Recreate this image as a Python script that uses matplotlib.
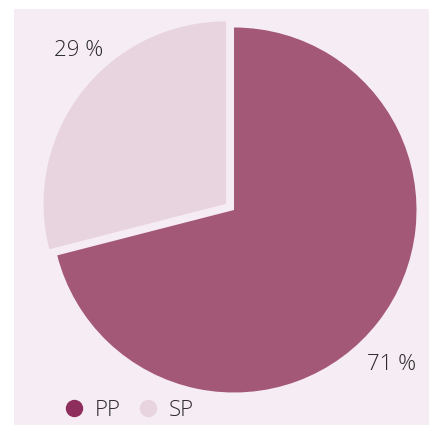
import matplotlib.pyplot as plt
from matplotlib.lines import Line2D

# chart data
labels = ["PP", "SP"]
shares = [71, 29]
wedge_colors = ["#A45878", "#E8D4DF"]
legend_colors = ["#8E2E5C", "#E8D4DF"]
pct_labels = ["71 %", "29 %"]

BG = "#F6ECF3"
TEXT = "#2A2A2A"

plt.rcParams["font.family"] = ["Open Sans", "DejaVu Sans"]
plt.rcParams["font.weight"] = "light"

fig = plt.figure(figsize=(4.29, 4.27), dpi=100)
fig.patch.set_facecolor("white")

# pink panel, pie centre at (234, 211) px, radius ~182.5 px
W, H = 429, 427
ax = fig.add_axes([14 / W, 1 / H, 415 / W, 416 / H])
ax.set_facecolor(BG)
r_px = 182.5
cx, cy = 234, 211

ax.pie(shares, colors=wedge_colors, startangle=90, counterclock=False,
       explode=[0, 0.055], radius=1, frame=True,
       wedgeprops=dict(linewidth=0))
ax.set_xlim((14 - cx) / r_px, (429 - cx) / r_px)
ax.set_ylim(-(426 - cy) / r_px, (cy - 10) / r_px)
ax.set_aspect("auto")
for s in ax.spines.values():
    s.set_visible(False)
ax.set_xticks([])
ax.set_yticks([])

# percentage labels outside the wedges
ax.text(0.865, -0.84, pct_labels[0], ha="center", va="center",
        fontsize=16, color=TEXT)
ax.text(-0.85, 0.88, pct_labels[1], ha="center", va="center",
        fontsize=16, color=TEXT)

handles = [Line2D([], [], marker="o", linestyle="none", markersize=11.5,
                  markerfacecolor=c, markeredgecolor=c) for c in legend_colors]
fig.legend(handles, labels, loc="center left", bbox_to_anchor=(54 / W, 1 - 411 / H),
           frameon=False, ncol=2, fontsize=16, handlelength=1.0,
           handletextpad=0.45, columnspacing=0.7, labelcolor=TEXT,
           borderaxespad=0)

fig.savefig("out.png", dpi=100, facecolor=fig.get_facecolor())
